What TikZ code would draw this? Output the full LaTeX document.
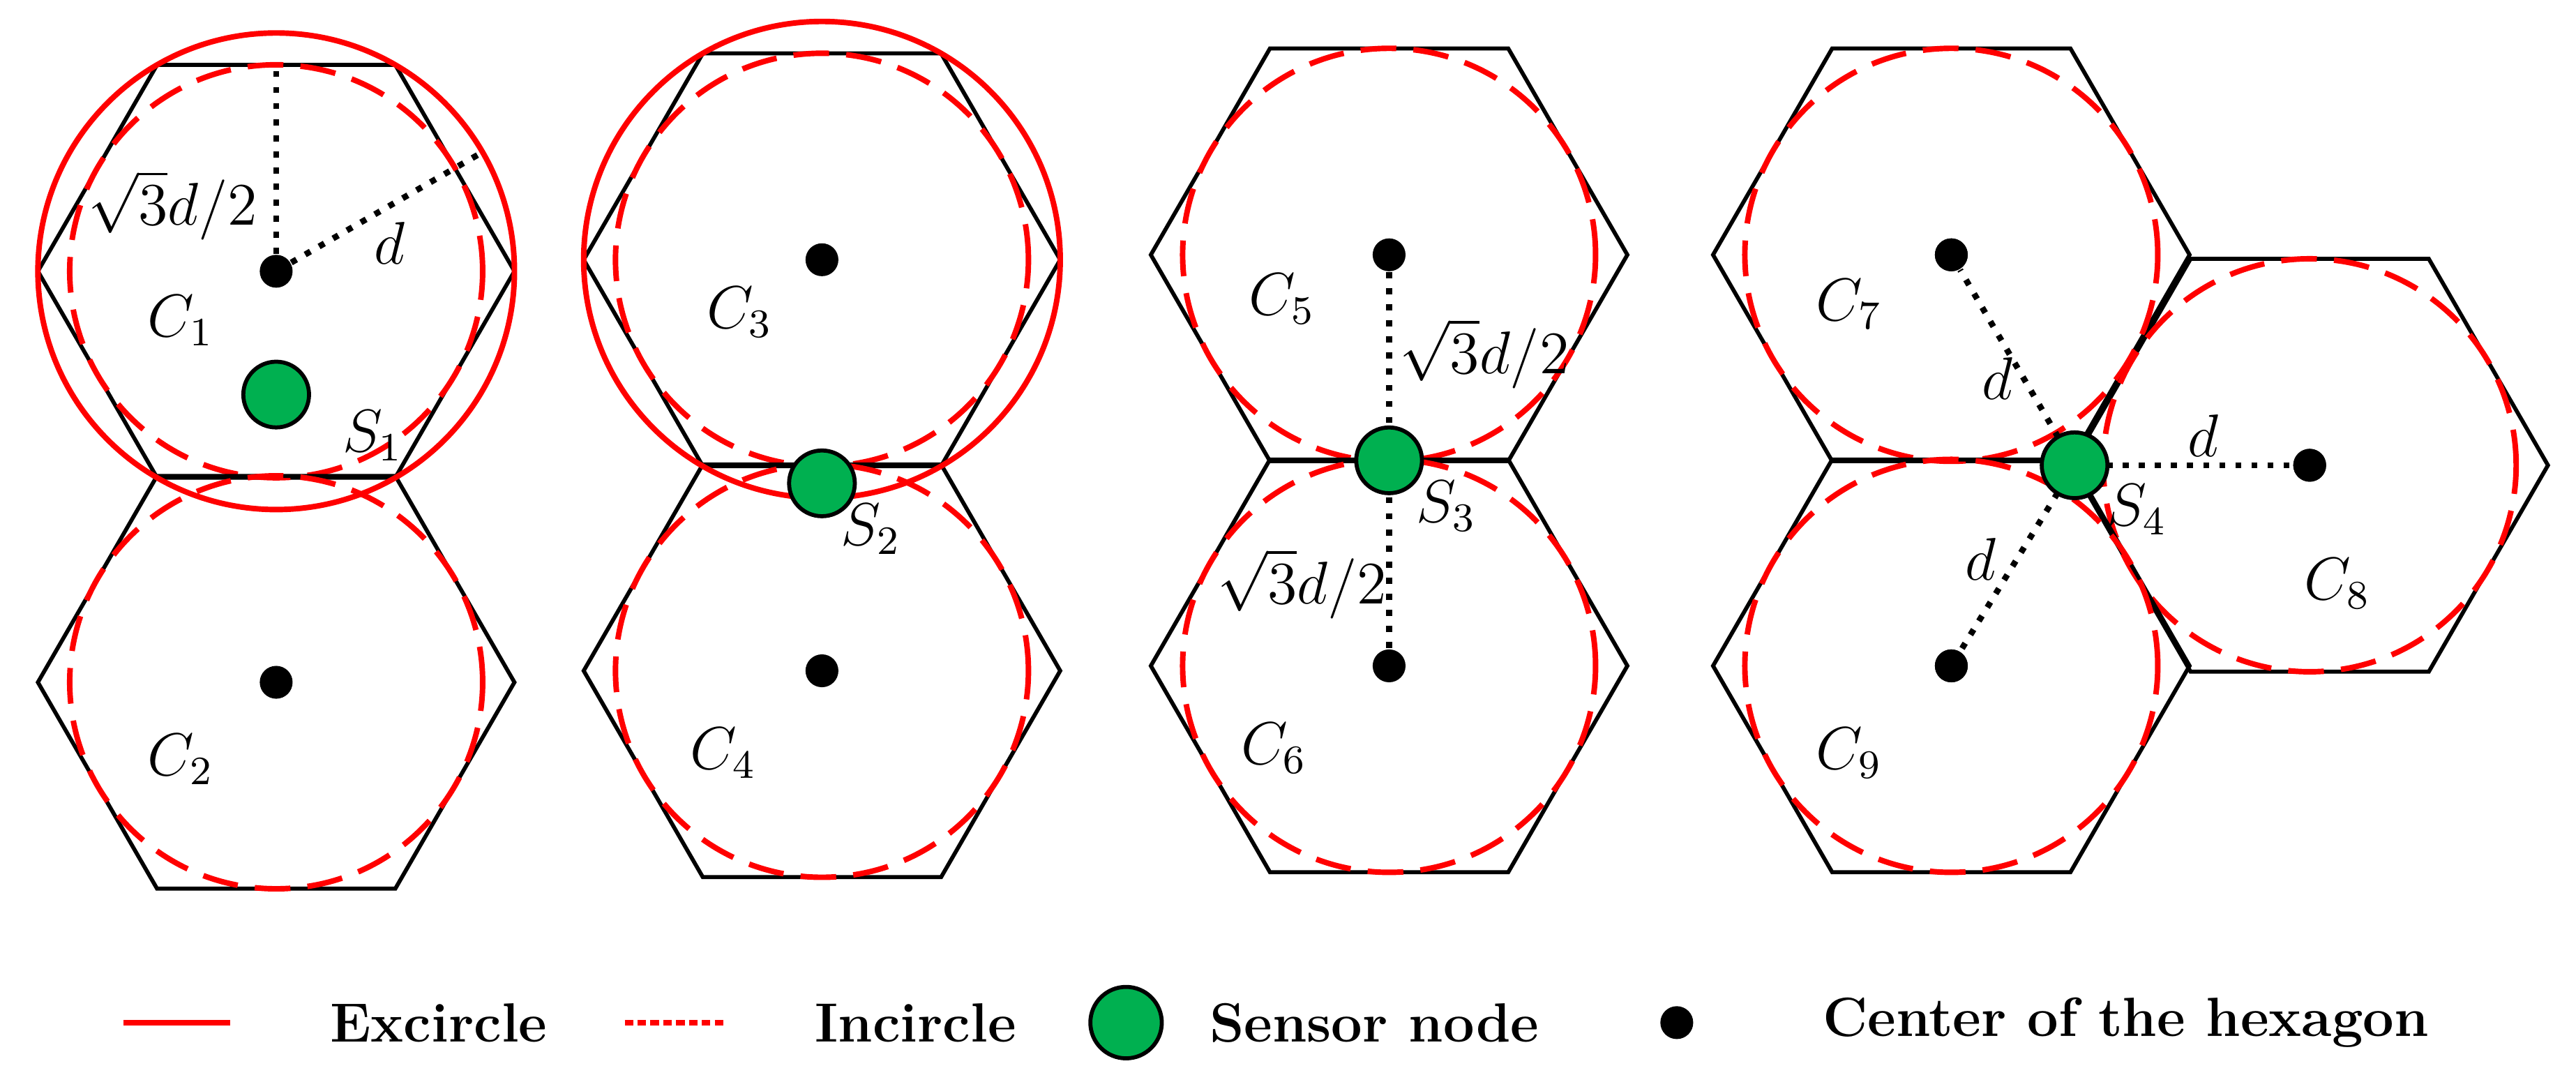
\documentclass[tikz,border=0pt]{standalone}
\usepackage{amsmath}
\usetikzlibrary{shapes.geometric}
\definecolor{sgreen}{RGB}{0,176,80}
\tikzset{
  hexa/.style={draw,regular polygon,regular polygon sides=6,minimum size=3.335cm,inner sep=0pt,outer sep=0pt,line width=0.8pt},
  excirc/.style={draw=red,circle,minimum size=3.335cm,inner sep=0pt,line width=1.1pt},
  incirc/.style={draw=red,circle,minimum size=2.89cm,inner sep=0pt,line width=1.1pt,dash pattern=on 0.25cm off 0.12cm},
  ctr/.style={circle,fill=black,minimum size=0.23cm,inner sep=0pt},
  sensor/.style={circle,draw=black,fill=sgreen,line width=0.8pt,minimum size=0.46cm,inner sep=0pt},
  radius/.style={dotted,line width=1.2pt},
  lbl/.style={font=\fontsize{12}{14}\selectfont},
  leg/.style={font=\fontsize{11}{13}\selectfont\bfseries,anchor=west}
}
\begin{document}
\begin{tikzpicture}[x=0.0115cm,y=-0.0115cm]
    \useasboundingbox (0,0) rectangle (1567,662);

    % hexagons
    \foreach \n/\x/\y in {1/168/165,2/168/415,3/500/158,4/500/408,5/845/155,6/845/405,7/1187/155,8/1405/283,9/1187/405}{
      \node[hexa] (h\n) at (\x,\y) {};
      \node[incirc] (i\n) at (\x,\y) {};
      \node[ctr] (c\n) at (\x,\y) {};
    }
    \node[excirc] (e1) at (c1) {};
    \node[excirc] (e3) at (c3) {};

    % radii of the first hexagon
    \coordinate (t1) at (168,40);
    \coordinate (r1) at (293.6,92.5);
    \draw[radius] (c1) -- (t1);
    \draw[radius] (c1) -- (r1);
    \node[lbl] (a1) at (105,125) {$\sqrt{3}d/2$};
    \node[lbl] (a2) at (237,148) {$d$};

    % sensor nodes
    \node[sensor] (s1) at (168,240) {};
    \node[sensor] (s2) at (500,294) {};
    \draw[radius] (c5) -- (c6);
    \node[sensor] (s3) at (845,280) {};
    \draw[radius] (1262,283) coordinate (p4) -- (c7);
    \draw[radius] (p4) -- (c8);
    \draw[radius] (p4) -- (c9);
    \node[sensor] (s4) at (p4) {};
    \node[ctr] at (c7) {};
    \node[ctr] at (c8) {};
    \node[ctr] at (c9) {};

    \node[lbl] at (903,215) {$\sqrt{3}d/2$};
    \node[lbl] at (792,355) {$\sqrt{3}d/2$};
    \node[lbl] at (1215,230) {$d$};
    \node[lbl] at (1340,265) {$d$};
    \node[lbl] at (1205,340) {$d$};

    % labels
    \foreach \t/\x/\y in {C_1/110/195,S_1/227/265,C_2/110/462,C_3/450/190,S_2/530/322,C_4/440/458,
      C_5/780/182,S_3/880/308,C_6/775/455,C_7/1125/185,S_4/1300/310,C_8/1422/355,C_9/1125/458}
      \node[lbl] at (\x,\y) {$\t$};

    % legend
    \coordinate (l1a) at (75,622); \coordinate (l1b) at (140,622);
    \draw[red,line width=1.1pt] (l1a) -- (l1b);
    \node[leg] (t1) at (190,622) {Excircle};
    \coordinate (l2a) at (380,622); \coordinate (l2b) at (440,622);
    \draw[red,line width=1.1pt,dash pattern=on 0.06cm off 0.03cm] (l2a) -- (l2b);
    \node[leg] (t2) at (485,622) {Incircle};
    \node[sensor,minimum size=0.5cm] (g) at (685,622) {};
    \node[leg] (t3) at (725,622) {Sensor node};
    \node[ctr] (k) at (1020,622) {};
    \node[leg] (t4) at (1098,622) {Center of the hexagon};
\end{tikzpicture}
\end{document}
